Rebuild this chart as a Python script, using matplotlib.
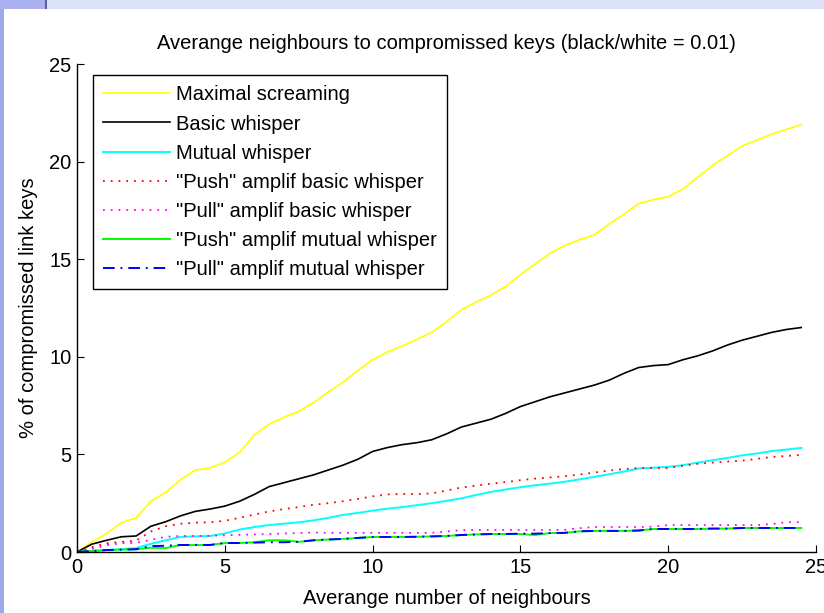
import matplotlib
matplotlib.use("Agg")
import matplotlib.pyplot as plt
from matplotlib.patches import Rectangle
import numpy as np

# average number of neighbours (x) and % of compromised link keys per scheme
neighbours = np.arange(0, 25, 0.5)

maximal_screaming = [
    0.0, 0.5, 0.95, 1.5, 1.75, 2.6, 3.05, 3.7, 4.2, 4.3,
    4.6, 5.1, 6.0, 6.55, 6.9, 7.2, 7.65, 8.2, 8.7, 9.3,
    9.85, 10.25, 10.55, 10.9, 11.25, 11.8, 12.4, 12.8, 13.15, 13.6,
    14.2, 14.75, 15.3, 15.7, 16.0, 16.25, 16.8, 17.3, 17.85, 18.05,
    18.2, 18.6, 19.2, 19.8, 20.3, 20.8, 21.1, 21.4, 21.65, 21.9,
]
basic_whisper = [
    0.0, 0.4, 0.6, 0.78, 0.82, 1.32, 1.55, 1.85, 2.08, 2.2,
    2.35, 2.6, 2.95, 3.35, 3.55, 3.75, 3.95, 4.2, 4.45, 4.75,
    5.15, 5.35, 5.5, 5.6, 5.75, 6.05, 6.4, 6.6, 6.8, 7.1,
    7.45, 7.7, 7.95, 8.15, 8.35, 8.55, 8.8, 9.15, 9.45, 9.55,
    9.6, 9.85, 10.05, 10.3, 10.6, 10.85, 11.05, 11.25, 11.4, 11.5,
]
mutual_whisper = [
    0.0, 0.05, 0.1, 0.15, 0.2, 0.42, 0.6, 0.77, 0.8, 0.82,
    0.95, 1.15, 1.28, 1.38, 1.45, 1.52, 1.62, 1.75, 1.9, 2.0,
    2.12, 2.22, 2.3, 2.4, 2.5, 2.62, 2.75, 2.92, 3.08, 3.2,
    3.32, 3.42, 3.5, 3.6, 3.72, 3.85, 3.98, 4.12, 4.28, 4.32,
    4.36, 4.45, 4.58, 4.7, 4.82, 4.95, 5.05, 5.17, 5.25, 5.33,
]
push_basic = [
    0.0, 0.25, 0.45, 0.52, 0.58, 1.05, 1.32, 1.45, 1.5, 1.52,
    1.6, 1.75, 1.92, 2.08, 2.2, 2.3, 2.42, 2.5, 2.6, 2.72,
    2.85, 2.95, 2.97, 2.97, 3.0, 3.15, 3.3, 3.4, 3.5, 3.58,
    3.68, 3.76, 3.82, 3.88, 3.97, 4.07, 4.17, 4.25, 4.3, 4.3,
    4.3, 4.42, 4.52, 4.58, 4.63, 4.68, 4.77, 4.87, 4.92, 4.97,
]
pull_basic = [
    0.0, 0.15, 0.35, 0.45, 0.47, 0.62, 0.78, 0.82, 0.82, 0.83,
    0.86, 0.88, 0.9, 0.92, 0.95, 0.97, 1.0, 0.98, 0.98, 0.98,
    0.98, 0.98, 0.98, 0.98, 0.98, 1.05, 1.12, 1.13, 1.13, 1.13,
    1.13, 1.13, 1.13, 1.13, 1.22, 1.28, 1.28, 1.28, 1.28, 1.3,
    1.38, 1.38, 1.38, 1.38, 1.38, 1.38, 1.38, 1.43, 1.53, 1.53,
]
push_mutual = [
    0.0, 0.05, 0.1, 0.12, 0.14, 0.22, 0.2, 0.36, 0.36, 0.36,
    0.46, 0.46, 0.5, 0.6, 0.6, 0.52, 0.6, 0.64, 0.67, 0.72,
    0.77, 0.77, 0.77, 0.78, 0.8, 0.82, 0.87, 0.9, 0.92, 0.92,
    0.92, 0.87, 0.97, 0.98, 1.06, 1.08, 1.08, 1.08, 1.1, 1.18,
    1.18, 1.18, 1.18, 1.2, 1.2, 1.23, 1.23, 1.23, 1.23, 1.23,
]
pull_mutual = [
    0.0, 0.05, 0.1, 0.12, 0.14, 0.3, 0.32, 0.36, 0.36, 0.36,
    0.46, 0.46, 0.48, 0.5, 0.5, 0.52, 0.6, 0.64, 0.67, 0.72,
    0.77, 0.77, 0.77, 0.78, 0.8, 0.82, 0.87, 0.9, 0.92, 0.92,
    0.94, 0.94, 0.97, 0.98, 1.06, 1.08, 1.08, 1.08, 1.1, 1.18,
    1.18, 1.18, 1.18, 1.2, 1.2, 1.23, 1.23, 1.23, 1.23, 1.23,
]

labels = [
    "Maximal screaming",
    "Basic whisper",
    "Mutual whisper",
    '"Push" amplif basic whisper',
    '"Pull" amplif basic whisper',
    '"Push" amplif mutual whisper',
    '"Pull" amplif mutual whisper',
]
ticks = [0, 5, 10, 15, 20, 25]

FONT = "Liberation Sans"
FS = 14.5
DOTTED = (0, (1, 3.3))

plt.rcParams.update({
    "font.family": FONT,
    "font.size": FS,
    "xtick.direction": "in",
    "ytick.direction": "in",
    "xtick.major.size": 5,
    "ytick.major.size": 5,
    "axes.linewidth": 1.0,
})

fig = plt.figure(figsize=(8.24, 6.13), dpi=100)
fig.patch.set_facecolor("white")

# window chrome around the figure
fig.patches.append(Rectangle((0, 1 - 9 / 613), 1, 9 / 613, transform=fig.transFigure,
                             facecolor="#dce2f8", edgecolor="none", zorder=0))
fig.patches.append(Rectangle((0, 1 - 9 / 613), 45 / 824, 9 / 613, transform=fig.transFigure,
                             facecolor="#aab0f0", edgecolor="none", zorder=1))
fig.patches.append(Rectangle((45 / 824, 1 - 9 / 613), 2 / 824, 9 / 613, transform=fig.transFigure,
                             facecolor="#5a6090", edgecolor="none", zorder=1))
fig.patches.append(Rectangle((0, 0), 3.5 / 824, 1 - 9 / 613, transform=fig.transFigure,
                             facecolor="#a0a8ec", edgecolor="none", zorder=1))

ax = fig.add_axes([77 / 824, 61 / 613, 739 / 824, 488 / 613])

ax.plot(neighbours, maximal_screaming, color="#ffff00", lw=1.2, label=labels[0])
ax.plot(neighbours, basic_whisper, color="#000000", lw=1.2, label=labels[1])
ax.plot(neighbours, mutual_whisper, color="#00ffff", lw=1.4, label=labels[2])
ax.plot(neighbours, push_basic, color="#ff0000", lw=1.3, ls=DOTTED, label=labels[3])
ax.plot(neighbours, pull_basic, color="#ff00ff", lw=1.3, ls=DOTTED, label=labels[4])
ax.plot(neighbours, push_mutual, color="#00ff00", lw=1.4, label=labels[5])
ax.plot(neighbours, pull_mutual, color="#0000ff", lw=1.4, ls=(0, (6, 3, 1, 3)), label=labels[6])

ax.set_xlim(0, 25)
ax.set_ylim(0, 25)
ax.set_xticks(ticks)
ax.set_yticks(ticks)
ax.spines["top"].set_visible(False)
ax.spines["right"].set_visible(False)
ax.tick_params(axis="both", labelsize=FS, pad=4)

ax.set_title("Averange neighbours to compromissed keys (black/white = 0.01)",
             fontsize=FS, pad=10.5)
ax.set_xlabel("Averange number of neighbours", fontsize=FS, labelpad=9)
ax.set_ylabel("% of compromissed link keys", fontsize=FS, labelpad=8)

leg = ax.legend(loc="upper left", bbox_to_anchor=(93 / 824, 1 - 75 / 613),
                bbox_transform=fig.transFigure, fancybox=False, framealpha=1,
                edgecolor="black", handlelength=3.3, handletextpad=0.3,
                labelspacing=0.5, borderpad=0.52, borderaxespad=0, fontsize=FS)
leg.get_frame().set_linewidth(1.0)

fig.savefig("out.png", dpi=100)
